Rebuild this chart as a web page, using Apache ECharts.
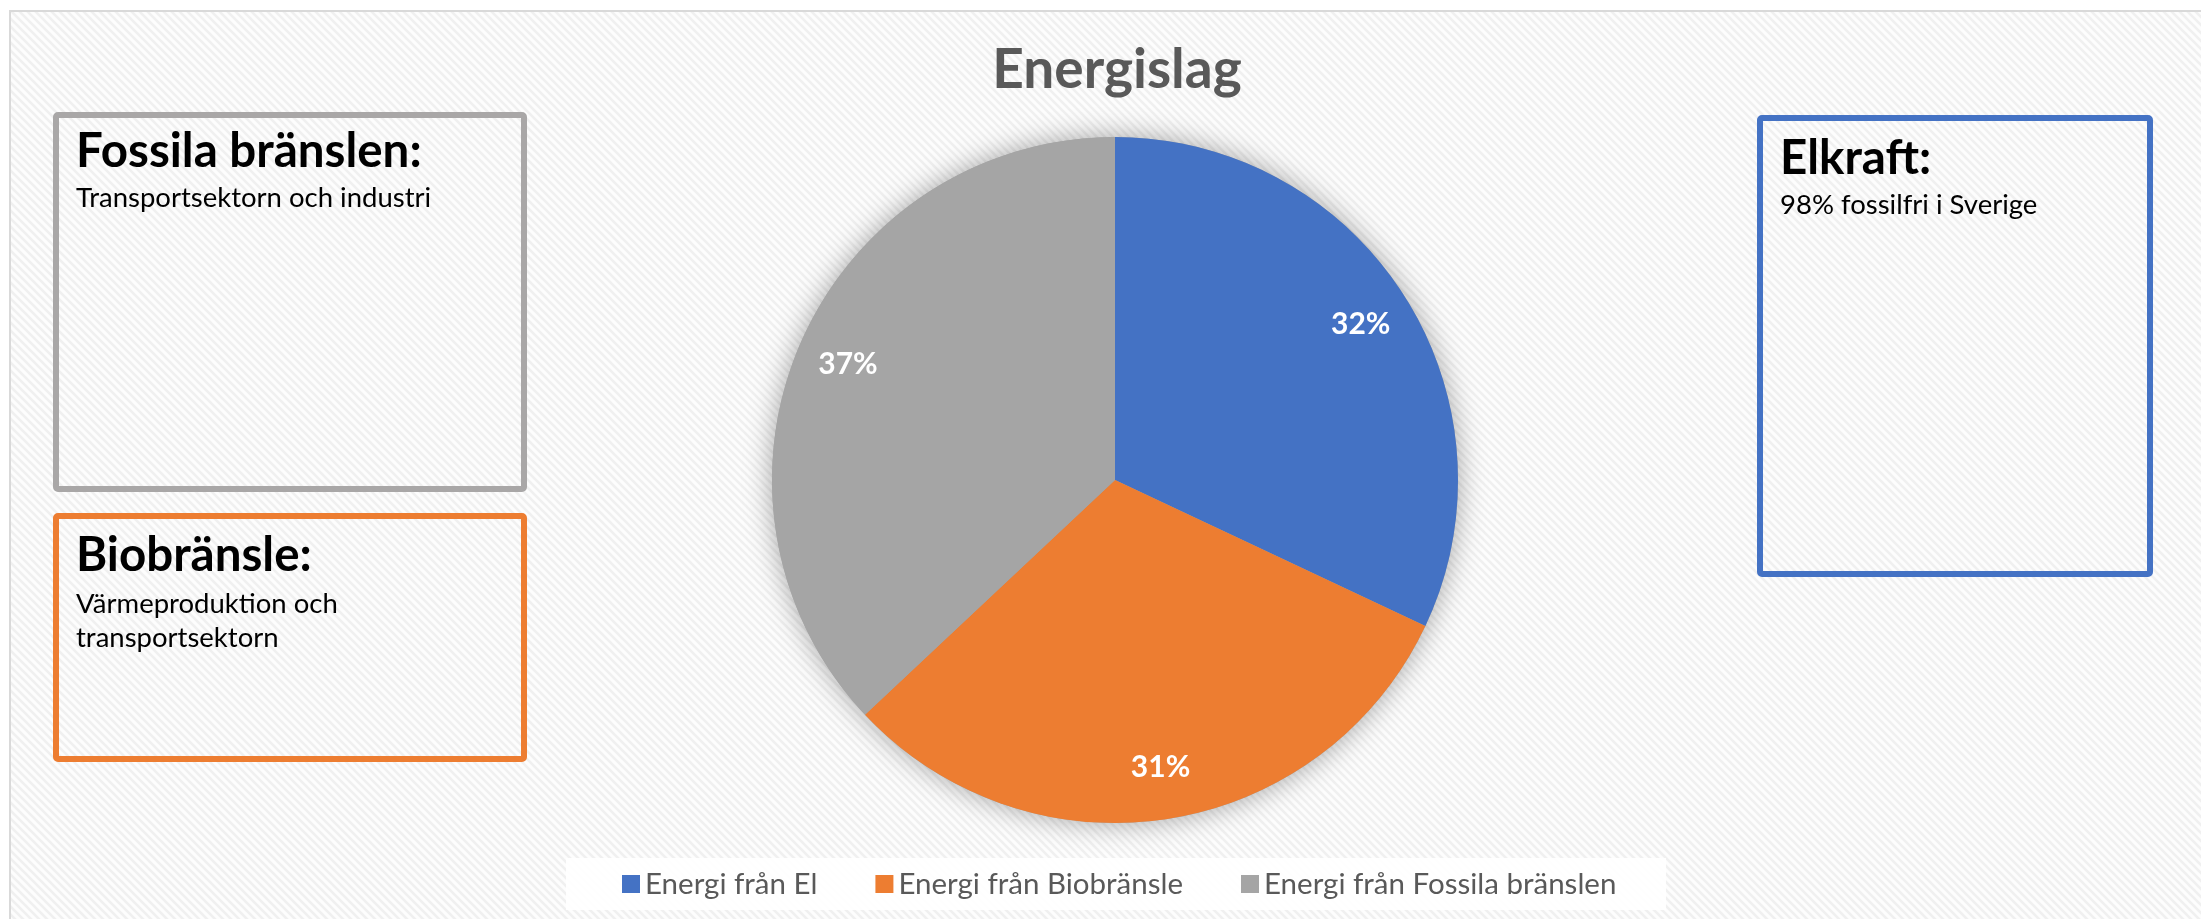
<!DOCTYPE html>
<html>
<head>
<meta charset="utf-8">
<script src="https://cdn.jsdelivr.net/npm/echarts@6/dist/echarts.min.js"></script>
<style>
html,body{margin:0;padding:0;background:#fff;}
#chart{width:2201px;height:919px;}
</style>
</head>
<body>
<div id="chart"></div>
<script>
// ---- data ----
const categories = ['Energi från El', 'Energi från Biobränsle', 'Energi från Fossila bränslen'];
const values = [32, 31, 37];
const colors = ['#4472C4', '#ED7D31', '#A5A5A5'];
const chartTitle = 'Energislag';
const boxTitles = ['Fossila bränslen:', 'Biobränsle:', 'Elkraft:'];
const boxTexts = [['Transportsektorn och industri'], ['Värmeproduktion och', 'transportsektorn'], ['98% fossilfri i Sverige']];

// ---- background pattern ----
function makePattern() {
  const P = 8;
  const c = document.createElement('canvas');
  c.width = P; c.height = P;
  const g = c.getContext('2d');
  g.fillStyle = '#fdfdfd';
  g.fillRect(0, 0, P, P);
  g.strokeStyle = '#f0f0f0';
  g.lineWidth = 2.6;
  g.beginPath();
  for (let k = -1; k <= 1; k++) {
    g.moveTo(-P + k * P, -P);
    g.lineTo(2 * P + k * P, 2 * P);
  }
  g.stroke();
  return c;
}
const pattern = makePattern();

const FONT = 'Lato';
const chart = echarts.init(document.getElementById('chart'), null, {renderer: 'canvas'});

function textBox(idx, rect, stroke, titleY, lineYs) {
  const els = [{
    type: 'rect', z: 5,
    shape: {x: rect[0], y: rect[1], width: rect[2], height: rect[3], r: 2},
    style: {fill: 'rgba(0,0,0,0)', stroke: stroke, lineWidth: 6}
  }, {
    type: 'text', z: 6,
    style: {text: boxTitles[idx], x: rect[0] + 20, y: titleY, font: 'bold 47.5px ' + FONT, fill: '#000', verticalAlign: 'middle'}
  }];
  boxTexts[idx].forEach((t, i) => {
    els.push({
      type: 'text', z: 6,
      style: {text: t, x: rect[0] + 20, y: lineYs[i], font: '27.5px ' + FONT, fill: '#000', verticalAlign: 'middle'}
    });
  });
  return els;
}

const graphics = [
  {
    type: 'rect', z: -10,
    shape: {x: 10, y: 11, width: 2300, height: 1000},
    style: {fill: {image: pattern, repeat: 'repeat'}, stroke: '#d9d9d9', lineWidth: 2}
  },
  {
    type: 'rect', z: 3,
    shape: {x: 566, y: 858, width: 1100, height: 52},
    style: {fill: 'rgba(255,255,255,0.9)'}
  },
  {
    type: 'text', z: 6,
    style: {text: chartTitle, x: 1117, y: 70, textAlign: 'center', verticalAlign: 'middle',
            font: 'bold 55px ' + FONT, fill: '#595959'}
  }
].concat(
  textBox(0, [56, 115, 468, 374], '#A9A7A7', 152, [198]),
  textBox(1, [56, 516, 468, 243], '#ED7D31', 556, [604, 638]),
  textBox(2, [1760, 118, 390, 456], '#4472C4', 159, [205])
);

const pieData = categories.map((n, i) => ({name: n, value: values[i], itemStyle: {color: colors[i]}}));

chart.setOption({
  backgroundColor: '#ffffff',
  animation: false,
  legend: {
    data: categories,
    left: 622,
    top: 869,
    padding: 0,
    itemWidth: 18,
    itemHeight: 18,
    itemGap: 58,
    icon: 'rect',
    textStyle: {fontFamily: FONT, fontSize: 29.5, color: '#595959'}
  },
  graphic: graphics,
  series: [
    {
      // shadow disc under the pie
      type: 'pie', z: 1, silent: true,
      center: [1115, 480], radius: [0, 343],
      data: [{name: '', value: values.reduce((a, b) => a + b, 0)}],
      label: {show: false}, labelLine: {show: false},
      itemStyle: {color: '#a5a5a5', shadowBlur: 28, shadowColor: 'rgba(0,0,0,0.35)'}
    },
    {
      type: 'pie', z: 2,
      center: [1115, 480], radius: [0, 343],
      startAngle: 90, clockwise: true,
      data: pieData,
      label: {show: false}, labelLine: {show: false},
      itemStyle: {borderWidth: 0},
      emphasis: {disabled: true}
    },
    {
      // label ring (transparent) to place labels near the rim
      type: 'pie', z: 3, silent: true,
      center: [1115, 480], radius: [233, 343],
      startAngle: 90, clockwise: true,
      percentPrecision: 0,
      data: pieData.map(d => ({name: d.name, value: d.value, itemStyle: {color: 'rgba(0,0,0,0)'}})),
      label: {show: true, position: 'inside', formatter: '{d}%', color: '#fff', fontFamily: FONT, fontWeight: 'bold', fontSize: 30},
      labelLine: {show: false},
      emphasis: {disabled: true}
    }
  ]
});
</script>
</body>
</html>
